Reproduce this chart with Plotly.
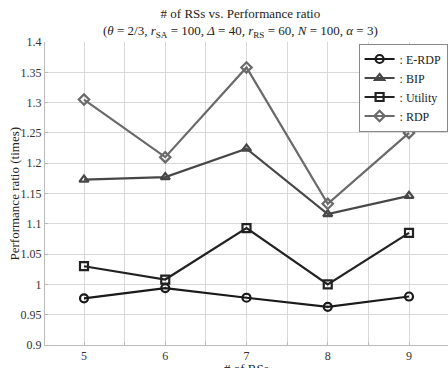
import plotly.graph_objects as go

num_rs = [5, 6, 7, 8, 9]
erdp = [0.977, 0.994, 0.978, 0.963, 0.980]
bip = [1.173, 1.177, 1.224, 1.116, 1.146]
utility = [1.030, 1.008, 1.093, 1.000, 1.085]
rdp = [1.305, 1.210, 1.358, 1.133, 1.250]

series = [
    (": E-RDP", erdp, "#1a1a1a", "circle-open"),
    (": BIP", bip, "#474747", "triangle-up-open"),
    (": Utility", utility, "#222222", "square-open"),
    (": RDP", rdp, "#6a6a6a", "diamond-open"),
]

x_tickvals = [5, 5.5, 6, 6.5, 7, 7.5, 8, 8.5, 9]
x_ticktext = ["5", "", "6", "", "7", "", "8", "", "9"]
y_tickvals = [0.9, 0.95, 1.0, 1.05, 1.1, 1.15, 1.2, 1.25, 1.3, 1.35, 1.4]
y_ticktext = ["0.9", "0.95", "1", "1.05", "1.1", "1.15", "1.2", "1.25", "1.3", "1.35", "1.4"]

FF = "Liberation Serif, serif"

fig = go.Figure()
for name, vals, color, sym in series:
    fig.add_trace(go.Scatter(
        x=num_rs, y=vals, name=name, mode="lines+markers",
        line=dict(color=color, width=2.2),
        marker=dict(symbol=sym, size=8, color=color, line=dict(width=2.2, color=color)),
    ))

fig.update_layout(
    width=448, height=368,
    margin=dict(l=45, r=0, t=42, b=23),
    paper_bgcolor="white", plot_bgcolor="white",
    font=dict(family=FF, size=12, color="#333333"),
    showlegend=True,
    legend=dict(
        x=0.999, xanchor="right", y=0.995, yanchor="top",
        bgcolor="white", bordercolor="#888888", borderwidth=1,
        font=dict(family=FF, size=12, color="#222222"),
        itemwidth=30, tracegroupgap=0,
    ),
    annotations=[
        dict(
            text="# of RSs vs. Performance ratio<br>(<i>θ</i> = 2/3, <i>r</i><sub>SA</sub> = 100, <i>Δ</i> = 40, <i>r</i><sub>RS</sub> = 60, <i>N</i> = 100, <i>α</i> = 3)",
            xref="paper", yref="paper", x=0.485, y=1, xanchor="center", yanchor="bottom",
            yshift=0, showarrow=False,
            font=dict(family=FF, size=13, color="#222222"),
        ),
        dict(
            text="# of RSs", xref="paper", yref="paper", x=0.5, y=0, xanchor="center", yanchor="top",
            yshift=-14, showarrow=False,
            font=dict(family=FF, size=13, color="#222222"),
        ),
        dict(
            text="Performance ratio (times)", xref="paper", yref="paper", x=0, y=0.5,
            xanchor="center", yanchor="middle", xshift=-31, textangle=-90, showarrow=False,
            font=dict(family=FF, size=13, color="#222222"),
        ),
    ],
)
fig.update_xaxes(
    range=[4.52, 9.48], tickvals=x_tickvals, ticktext=x_ticktext,
    showgrid=True, gridcolor="#d9d9d9", gridwidth=1,
    showline=True, linecolor="#bbbbbb", linewidth=1, mirror=False,
    ticks="inside", ticklen=3, tickcolor="#bbbbbb",
    zeroline=False, automargin=False,
    tickfont=dict(family=FF, size=12, color="#333333"),
)
fig.update_yaxes(
    range=[0.9, 1.4], tickvals=y_tickvals, ticktext=y_ticktext,
    showgrid=True, gridcolor="#d9d9d9", gridwidth=1,
    showline=True, linecolor="#bbbbbb", linewidth=1,
    ticks="inside", ticklen=3, tickcolor="#bbbbbb",
    zeroline=False, automargin=False,
    tickfont=dict(family=FF, size=12, color="#333333"),
)

fig.write_html("out.html")
